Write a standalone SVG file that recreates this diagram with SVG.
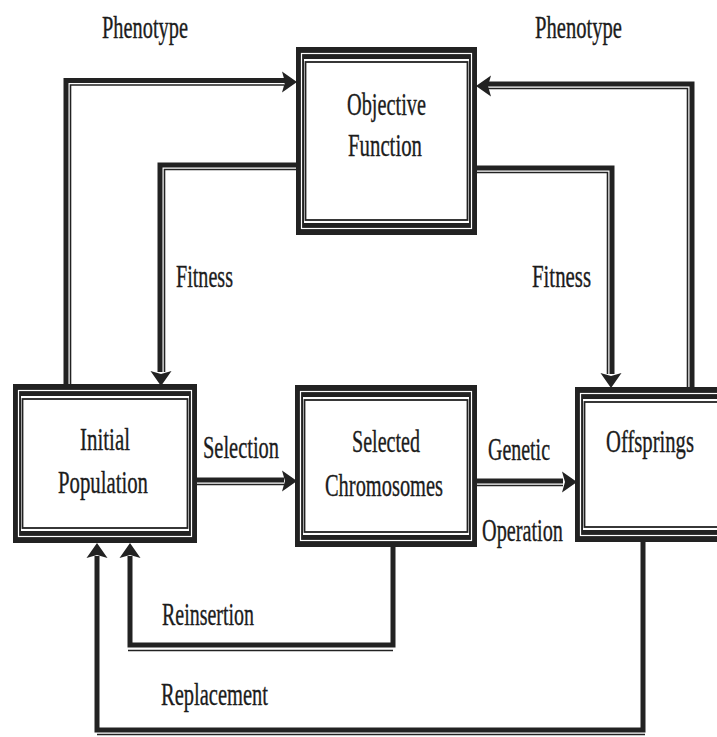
<svg xmlns="http://www.w3.org/2000/svg" width="717" height="737" viewBox="0 0 717 737">
  <style>
    .lbl { font-family: "Liberation Serif", "Times New Roman", serif; font-size: 31px; fill: #1c1c1c; stroke: #1c1c1c; stroke-width: 0.35; }
    .thick { fill: none; stroke: #222; stroke-width: 5; stroke-linejoin: miter; }
    .thin { fill: none; stroke: #222; stroke-width: 1.6; }
    .band { fill: #222; }
    .gap { fill: none; stroke: #fff; stroke-width: 1.2; }
    .inner { fill: #fff; stroke: #222; stroke-width: 1.8; }
    .head { fill: #222; }
  </style>
  <defs>
    <!-- arrowhead pointing along +x, tip at origin -->
    <path id="ah" d="M0,0 L-15,-10.5 L-12,0 L-15,10.5 Z"/>
  </defs>
  <rect width="717" height="737" fill="#fff"/>

  <!-- connectors -->
  <g id="connectors">
    <!-- Phenotype (left) -->
    <path class="thick" d="M66,384 V80.5 H286"/>
    <path class="thin" d="M70.5,384 V85 H284"/>
    <use href="#ah" class="head" transform="translate(297,82)"/>
    <!-- Phenotype (right) -->
    <path class="thick" d="M692,387 V84 H488"/>
    <path class="thin" d="M687.5,387 V88.5 H488"/>
    <use href="#ah" class="head" transform="translate(476,86) rotate(180)"/>
    <!-- Fitness (left) -->
    <path class="thick" d="M296,165 H160 V372"/>
    <path class="thin" d="M296,169.5 H164.5 V372"/>
    <use href="#ah" class="head" transform="translate(161,386) rotate(90)"/>
    <!-- Fitness (right) -->
    <path class="thick" d="M477,168 H612 V374"/>
    <path class="thin" d="M477,172.5 H607.5 V374"/>
    <use href="#ah" class="head" transform="translate(611,388) rotate(90)"/>
    <!-- Selection -->
    <path class="thick" d="M197,480 H284"/>
    <path class="thin" d="M197,484.5 H284"/>
    <use href="#ah" class="head" transform="translate(297,481)"/>
    <!-- Genetic Operation -->
    <path class="thick" d="M477,481 H563"/>
    <path class="thin" d="M477,485.5 H563"/>
    <use href="#ah" class="head" transform="translate(577,482)"/>
    <!-- Reinsertion -->
    <path class="thick" d="M393,547 V645 H130 V556"/>
    <path class="thin" d="M128,650.5 H393"/>
    <use href="#ah" class="head" transform="translate(130,543) rotate(-90)"/>
    <!-- Replacement -->
    <path class="thick" d="M643,542 V730 H97 V556"/>
    <path class="thin" d="M97,734.5 H645"/>
    <use href="#ah" class="head" transform="translate(97,543) rotate(-90)"/>
  </g>

  <!-- nodes -->
  <g id="objective-function">
    <rect class="band" x="296" y="47" width="181" height="188"/>
    <rect class="gap" x="301.5" y="53.5" width="170" height="175"/>
    <rect fill="#fff" x="304" y="59" width="165" height="164"/>
    <rect class="inner" x="305.5" y="62" width="162" height="158"/>
    <text class="lbl" x="347" y="115" textLength="79" lengthAdjust="spacingAndGlyphs">Objective</text>
    <text class="lbl" x="348" y="156" textLength="74" lengthAdjust="spacingAndGlyphs">Function</text>
  </g>

  <g id="initial-population">
    <rect class="band" x="13" y="384" width="184" height="159"/>
    <rect class="gap" x="18.5" y="390.5" width="173" height="146"/>
    <rect fill="#fff" x="21" y="396" width="168" height="135"/>
    <rect class="inner" x="22.5" y="399" width="165" height="129"/>
    <text class="lbl" x="80" y="450" textLength="50" lengthAdjust="spacingAndGlyphs">Initial</text>
    <text class="lbl" x="58" y="493" textLength="90" lengthAdjust="spacingAndGlyphs">Population</text>
  </g>

  <g id="selected-chromosomes">
    <rect class="band" x="295" y="385" width="182" height="162"/>
    <rect class="gap" x="300.5" y="391.5" width="171" height="149"/>
    <rect fill="#fff" x="303" y="397" width="166" height="138"/>
    <rect class="inner" x="304.5" y="400" width="163" height="132"/>
    <text class="lbl" x="352" y="452" textLength="68" lengthAdjust="spacingAndGlyphs">Selected</text>
    <text class="lbl" x="325" y="496" textLength="118" lengthAdjust="spacingAndGlyphs">Chromosomes</text>
  </g>

  <g id="offsprings">
    <rect class="band" x="575" y="387" width="170" height="155"/>
    <rect class="gap" x="580.5" y="393.5" width="159" height="142"/>
    <rect fill="#fff" x="583" y="399" width="154" height="131"/>
    <rect class="inner" x="584.5" y="402" width="151" height="125"/>
    <text class="lbl" x="606" y="452" textLength="88" lengthAdjust="spacingAndGlyphs">Offsprings</text>
  </g>

  <!-- connector labels -->
  <g id="labels">
    <text class="lbl" x="102" y="38" textLength="86" lengthAdjust="spacingAndGlyphs">Phenotype</text>
    <text class="lbl" x="535" y="38" textLength="87" lengthAdjust="spacingAndGlyphs">Phenotype</text>
    <text class="lbl" x="176" y="287" textLength="57" lengthAdjust="spacingAndGlyphs">Fitness</text>
    <text class="lbl" x="532" y="287" textLength="59" lengthAdjust="spacingAndGlyphs">Fitness</text>
    <text class="lbl" x="203" y="458" textLength="76" lengthAdjust="spacingAndGlyphs">Selection</text>
    <text class="lbl" x="488" y="460" textLength="62" lengthAdjust="spacingAndGlyphs">Genetic</text>
    <text class="lbl" x="482" y="541" textLength="81" lengthAdjust="spacingAndGlyphs">Operation</text>
    <text class="lbl" x="162" y="625" textLength="92" lengthAdjust="spacingAndGlyphs">Reinsertion</text>
    <text class="lbl" x="161" y="705" textLength="107" lengthAdjust="spacingAndGlyphs">Replacement</text>
  </g>
</svg>
